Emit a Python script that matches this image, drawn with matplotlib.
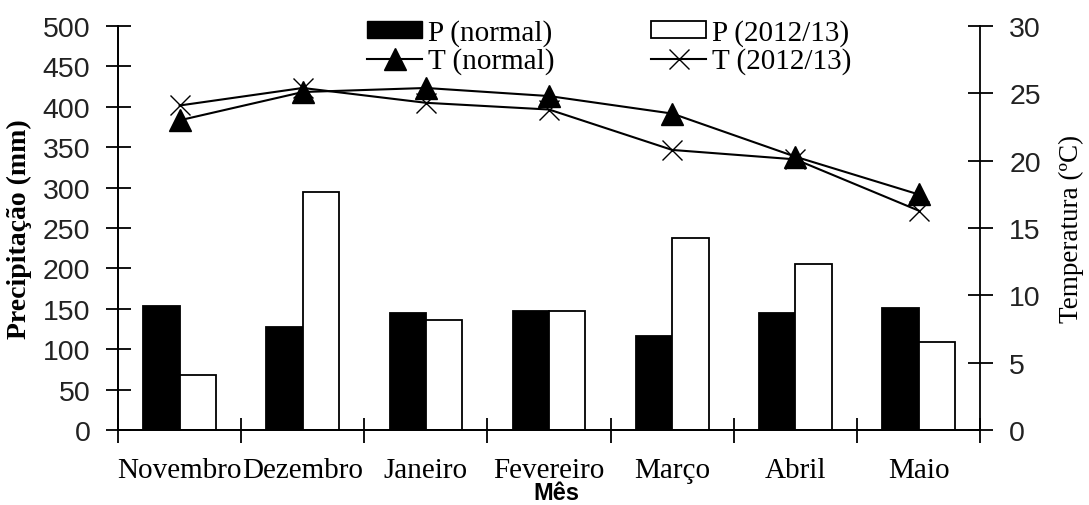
import matplotlib
matplotlib.use("Agg")
import matplotlib.pyplot as plt
import numpy as np
from matplotlib.lines import Line2D
from matplotlib.patches import Patch

months = ["Novembro", "Dezembro", "Janeiro", "Fevereiro", "Março", "Abril", "Maio"]
p_normal = [153, 127, 145, 147, 116, 145, 151]
p_2012 = [68, 295, 136, 147, 238, 205, 109]
t_normal = [23.0, 25.1, 25.4, 24.8, 23.5, 20.3, 17.5]
t_2012 = [24.1, 25.4, 24.3, 23.8, 20.8, 20.1, 16.3]

serif = "Liberation Serif"
sans = "Liberation Sans"

fig = plt.figure(figsize=(10.89, 5.06), dpi=100)
ax = fig.add_axes([0.1084, 0.148, 0.7916, 0.7986])
ax2 = ax.twinx()

x = np.arange(len(months))
w = 0.295
ax.bar(x - w / 2, p_normal, width=w, color="black", edgecolor="black", linewidth=1.3, zorder=2)
ax.bar(x + w / 2, p_2012, width=w, color="white", edgecolor="black", linewidth=1.3, zorder=2)

ax2.plot(x, t_normal, color="black", lw=1.5, marker="^", markersize=16, markerfacecolor="black", zorder=3)
ax2.plot(x, t_2012, color="black", lw=1.5, marker="x", markersize=15, markeredgewidth=1.0, zorder=3)

ax.set_xlim(-0.5, len(months) - 0.5)
ax.set_ylim(0, 500)
ax2.set_ylim(0, 30)
ax.set_yticks(np.arange(0, 501, 50))
ax2.set_yticks(np.arange(0, 31, 5))

ax.set_xticks(np.arange(-0.5, len(months), 1.0))
ax.set_xticklabels([])
ax.set_xticks(x, minor=True)
ax.set_xticklabels(months, minor=True, fontfamily=serif, fontsize=21)
ax.tick_params(axis="x", which="minor", length=0, pad=19)
ax.tick_params(axis="x", which="major", direction="inout", length=18, width=1.3)
ax.tick_params(axis="y", direction="inout", length=18, width=1.3, labelsize=20.5, pad=11)
ax2.tick_params(axis="y", direction="inout", length=18, width=1.3, labelsize=20.5, pad=12)
for lab in ax.get_yticklabels() + ax2.get_yticklabels():
    lab.set_fontfamily(sans)
    lab.set_color("#222222")

for a in (ax, ax2):
    a.spines["top"].set_visible(False)
    for s in ("left", "right", "bottom"):
        a.spines[s].set_linewidth(1.3)
ax.spines["right"].set_visible(False)

ax.set_ylabel("Precipitação (mm)", fontfamily=serif, fontweight="bold", fontsize=20, labelpad=8)
ax2.set_ylabel("Temperatura (ºC)", fontfamily=serif, fontsize=19.5, labelpad=13)
ax.set_xlabel("Mês", fontfamily=sans, fontweight="bold", fontsize=17)
ax.xaxis.set_label_coords(0.509, -0.125)

handles = [
    Patch(facecolor="black", edgecolor="black"),
    Line2D([0], [0], color="black", lw=1.5, marker="^", markersize=16),
    Patch(facecolor="white", edgecolor="black", linewidth=1.3),
    Line2D([0], [0], color="black", lw=1.5, marker="x", markersize=15),
]
labels = ["P (normal)", "T (normal)", "P (2012/13)", "T (2012/13)"]
fig.legend(handles, labels, ncol=2, loc="upper left", bbox_to_anchor=(367 / 1089, 1 - 20 / 506),
           frameon=False, prop={"family": serif, "size": 21}, handlelength=1.9,
           handleheight=0.5, columnspacing=3.3, labelspacing=0.05, handletextpad=0.2,
           borderpad=0, borderaxespad=0)

fig.savefig("out.png", dpi=100)
